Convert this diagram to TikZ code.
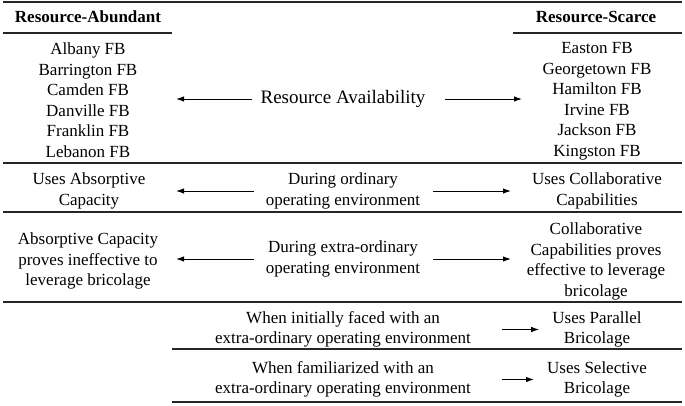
\documentclass[tikz,border=0pt]{standalone}
\usepackage{fontspec}
\setmainfont{Liberation Serif}
\usetikzlibrary{arrows.meta,positioning}

\begin{document}
\begin{tikzpicture}[
  x=1pt,y=-1pt,
  >={Latex[length=8pt,width=5.5pt]},
  ruleline/.style={black!85,line width=1.1pt},
  arrowline/.style={black,line width=1pt,->},
  celltext/.style={align=center,inner sep=0pt,font=\fontsize{17pt}{20.5pt}\selectfont},
  headtext/.style={align=center,inner sep=0pt,font=\fontsize{17pt}{20.5pt}\selectfont\bfseries}
]
\path[use as bounding box] (0,0) rectangle (685,405);

% rules of the table
\draw[ruleline] (3,2) -- (682,2);
\draw[ruleline] (3,33) -- (172,33);
\draw[ruleline] (513,33) -- (682,33);
\draw[ruleline] (3,163) -- (682,163);
\draw[ruleline] (3,212) -- (682,212);
\draw[ruleline] (3,302) -- (682,302);
\draw[ruleline] (172,349) -- (682,349);
\draw[ruleline] (172,402) -- (682,402);

\node[headtext] (abund) at (88,17) {Resource-Abundant};
\node[headtext] (scarce) at (596,17) {Resource-Scarce};

\node[celltext] (abundlist) at (88,100)
  {Albany FB\\Barrington FB\\Camden FB\\Danville FB\\Franklin FB\\Lebanon FB};
\node[celltext] (scarcelist) at (597,101.5)
  {Easton FB\\Georgetown FB\\Hamilton FB\\Irvine FB\\Jackson FB\\Kingston FB};
\node[celltext,font=\fontsize{19pt}{22pt}\selectfont] (avail) at (343,99)
  {Resource Availability};

\node[celltext] (ordleft) at (89,191) {Uses Absorptive\\Capacity};
\node[celltext] (ordmid) at (343,191) {During ordinary\\operating environment};
\node[celltext] (ordright) at (597,191) {Uses Collaborative\\Capabilities};

\node[celltext] (extleft) at (88,261)
  {Absorptive Capacity\\proves ineffective to\\leverage bricolage};
\node[celltext] (extmid) at (343,259) {During extra-ordinary\\operating environment};
\node[celltext] (extright) at (596,261.5)
  {Collaborative\\Capabilities proves\\effective to leverage\\bricolage};

\node[celltext] (initmid) at (343,329.5)
  {When initially faced with an\\extra-ordinary operating environment};
\node[celltext] (parallel) at (597,329.5) {Uses Parallel\\Bricolage};

\node[celltext] (fammid) at (343,379.5)
  {When familiarized with an\\extra-ordinary operating environment};
\node[celltext] (selective) at (597,379.5) {Uses Selective\\Bricolage};

\coordinate (tipL) at (176,0);
\coordinate (tipRa) at (522,0);
\coordinate (tipR) at (511,0);

\draw[arrowline,shorten <=8pt] (avail.west) -- (avail.west -| tipL);
\draw[arrowline,shorten <=19pt] (avail.east) -- (avail.east -| tipRa);
\draw[arrowline,shorten <=12pt] (ordmid.west) -- (ordmid.west -| tipL);
\draw[arrowline,shorten <=13pt] (ordmid.east) -- (ordmid.east -| tipR);
\draw[arrowline,shorten <=12pt] (extmid.west) -- (extmid.west -| tipL);
\draw[arrowline,shorten <=13pt] (extmid.east) -- (extmid.east -| tipR);
\draw[arrowline,shorten <=31pt,shorten >=13pt] (initmid.east) -- (parallel.west);
\draw[arrowline,shorten <=31pt,shorten >=13pt] (fammid.east) -- (selective.west);
\end{tikzpicture}
\end{document}
